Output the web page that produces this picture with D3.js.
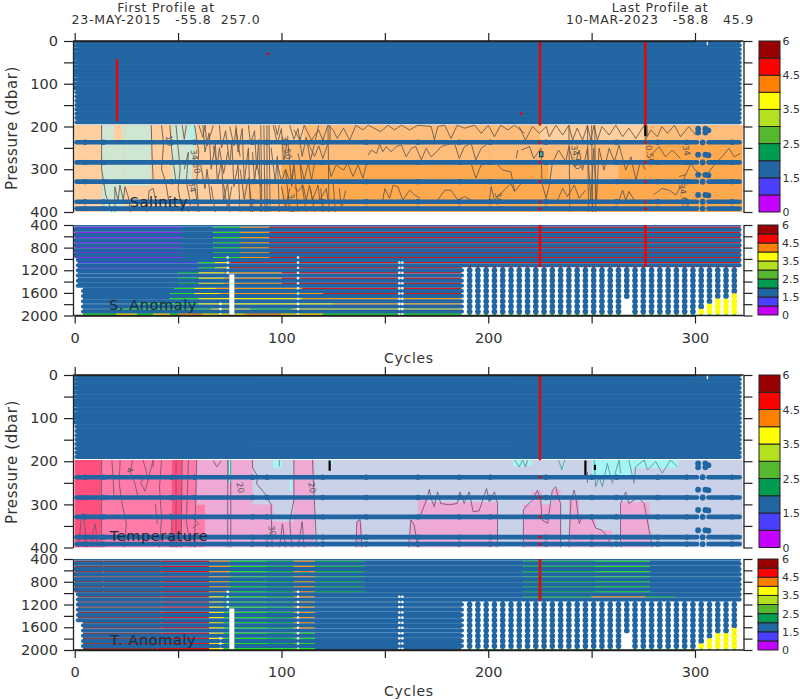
<!DOCTYPE html>
<html><head><meta charset="utf-8">
<style>html,body{margin:0;padding:0;background:#fff}svg{display:block}text{font-family:"DejaVu Sans",sans-serif;fill:#333}</style>
<script src="https://cdn.jsdelivr.net/npm/d3@7/dist/d3.min.js"></script>
</head><body><svg id="c" width="800" height="700"></svg>
<script>
// ---- colour classes (anomaly in standard deviations)
const classBreaks=[1,1.5,2,2.5,3,3.5,4,4.5,5];
const classColors=['#c400ff','#4a3fff','#2166a3','#009c4f','#55b82e','#b3e01f','#ffff00','#ff8000','#ff0000','#990000'];
const sliverColors=['#8a2be8','#4a3fe0','#2166a3','#10b040','#22dd22','#b3e01f','#ffee00','#ff9a10','#d81818','#8a3a40'];
const barEdges=[0,1,1.5,2,2.5,3,3.5,4,4.5,5,6];
const barLabels=[0,1.5,2.5,3.5,4.5,6];
const xMajor=[0,50,100,150,200,250,300];
const xLabelled=[0,100,200,300];
const shallowTicks=[0,50,100,150,200,250,300,350,400];
const shallowLabelled=[0,100,200,300,400];
const deepTicks=[400,600,800,1000,1200,1400,1600,1800,2000];
const deepLabelled=[400,800,1200,1600,2000];
// ---- sampled levels
const denseLevels=[0,10,20,30,40,50,60,70,80,90,100,110,120,130,140,150,160,170,180,190];
const sparseLevels=[237,284,329,376,392];
const bumpCycles=[5,14,47,58,86,93,120,141,166,186,201,228,250,262,282,296,318];
const loneDots=[[301.5,205],[301.5,214],[305,205],[305,214],[306.5,209],[301.5,266],[305,266],[306.5,267],[301.5,313],[305,313],[306.5,314],[301.5,360],[305,360],[306.5,361],[303.7,237],[303.7,284],[303.7,329],[303.7,376],[303.7,392]];
const sliverLevels=[440,530,625,715,800,890,975,1065,1155,1245,1340,1430,1520,1610,1705,1795,1885,1980];
const blueLevels=[400,485,578,670,758,845,932,1020,1110,1200,1292,1385,1475,1565,1657,1750,1840,1930];
const columnCycles=[191,195,199,203,207,211,215,219,223,227,231,235,239,243,247,251,255,259,263,267,271,275,279,283,287,291,295,299,303,307,311,315,319];
const shortColumn=[[267,1657]];
const yellowCols=[[303,1930],[307,1840],[311,1750],[315,1750],[319,1657]];
const missing=[[74,900,1250],[108,950,2000],[70.5,1750,2000],[157,1000,2000],[158.5,1000,2000]];
const wideGap=[76,1270,2000];
// ---- salinity section
const salBreaks=[34.40,34.50,34.55,34.60];
const salFill=['#a5f4f4','#cfe6d3','#ffcf9f','#ffbd7c','#ffa94f'];
const salCells=[[0,323,197,400,34.63],[0,13,197,400,34.52],[13,24,197,400,34.45],[19,23,197,235,34.52],[24,37,197,340,34.45],[24,37,340,400,34.52],[37,47,197,400,34.52],[47,57,197,330,34.45],[47,57,330,400,34.52],[57,81,197,400,34.52],[81,100,197,330,34.52],[81,100,330,400,34.57],[100,111,197,240,34.52],[100,111,240,280,34.57],[111,225,197,240,34.57],[111,200,240,285,34.57],[56,58,197,240,34.38],[56.5,57.5,240,285,34.38],[200,276,240,285,34.57],[229,263,285,330,34.57],[225,276,197,240,34.52],[276,323,197,240,34.57]];
const salContours=[
[13,197,13,300,14,330,15,360,18,400],[19.4,400,19.4,341,21,372,21.9,337,23.5,372,24.3,341,25.9,364,27,400],[37,197,37.5,280,38,330],[35,400,36,350,38,345,40,395],[42,197,43,240,42,300,44,330,46,390],[46,197,47,260,49,330],[49,197,50,250,51,300,50,345,52,400],[52,197,53,230,54,197],[53,300,55,260,54,330,56,380,55,400],[58,197,60,260,59,330,60,400],[60,197,62,225,63,197,64,245,66,215,67,197],
[62,197,63,260,65,215,66,300,68,240,69,330,71,280,72,375,74,330,75,400],[70,197,71,250,73,210,75,290,76,235,77,340,79,290,80,400],[78,197,79,260,81,205,82,330,84,250,85,400],[84,197,85,240,87,210,88,300,89,230,90,400],[90,197,90.5,400],[91.5,197,92,400],[93,197,93,400],[94,197,94.5,400],[95,250,97,330,98,270,99,400],[96,197,98,240,100,205,101,285,103,230,105,340,106,280,108,400],[100,340,102,390,104,345],[104,197,106,230,108,205,110,270,112,225,114,280,116,240,118,197],[66,340,68,400],[72,335,74,395,76,340],
[58,340,60,400],[61,290,63,345,64,300,66,380],[67,245,69,290,70,250,72,310,74,260],[75,200,77,245,78,205,80,270],[80,300,82,370,84,320,86,400],[86,260,87,330,88,280,90,340],[97,197,98,220,99,197],[102,300,104,330,106,300],[98,285,100,330,102,300,104,400],[109,285,110,340,112,400],[114,345,116,400],[119,345,120,400],[125,330,126,400],[128,345,129,395,131,350],
[106,208,109,232,111,197,114.5,232,118,208,120,232,122.5,197,125,208,127,228,130,204,133,232,136,197,139.4,208,142,197,148,212,151.5,197,154.7,208,158,197,162,208,166,197,172.4,200,174,232,175.6,200,179,197,182,228,185,197,188.5,204,193.4,197,196.6,216,200,197,203,224,206,197,209.5,208,212.7,197,217.5,216],
[142,267,143.4,255,146,263,147.5,241,149,259,150.7,247,153,259,155.5,247,158,243,160.3,271,162.8,251,165,247,167.6,278,170,251,172.4,271,175,259,177.3,247,179.7,243,183.7,239,186,275,188.5,247,191.7,239,194,278,196.6,251,200,239],
[108,263,111,325,113,286,114.5,325,116,287],[113,240,116,270,118,245,120,275,122.5,239],[122.5,197,123,400],[123.5,197,123.5,240],[122.5,282,124,317,126.5,290,130,302,132,286,134.6,317,137,290,139.4,321,141,290],
[106.4,341,108,352,110.4,337,112,372,113.6,337,115,372,117.7,337,118.5,372,121.7,345,122.5,372],[149,372,150,345,152.3,368,154,337,156.3,341,158.7,372,162,349,164.4,360,167,368],[175.6,372,179,349,182,349,185.3,372,188.5,364,191.7,372],[200.6,372,201.4,341,203,372,211,333,212.7,352],
[191.7,286,194,321,196.6,290,200,286],[204.6,290,207,302,211,306,212.7,352,216,333],[214.3,255,213.5,275],
[215,200,218,232,221.4,200,224.7,216,228,200,229.5,224,232.7,197,236,220,239,197,240.8,232,243,204,245.6,232,248,197,249.6,232,251.2,197,252.8,232,255,200,258.5,220,261.7,197,265,224,268,204,271.4,228,275.4,197,276,232,278.6,208,281.8,224,284,200,286.7,216,290,197,293,224,297,200,300.3,220],
[216,255,220,247,222,275,225.5,251,226,333,228,368,229.5,337,231,286,234,255,237.5,282,239,247,241.6,294,244,255,245.6,302,248,251,249.6,372,251,251,252.4,372,253.6,251,256,302,258.5,251,261,282,263.3,243,266.5,302,269,271,271.4,325,273.8,278,276,302],
[279.4,263,282.6,247,285.8,271,289,255,293,275],[292.3,317,295.5,313,298,286,300,302,305,317,310,286,313,271,316.4,251,319,271,322,263],[280,360,284,345,287.5,349,290.7,360,294,333,295.5,310],[233.5,372,236,345,238.3,364,241.6,337,244,368,247,349],[263.3,372,265,349,266.5,372,268,352,270.6,372],[239,197,239.5,400],[248,197,248.5,400],[250,197,250.5,400],[251.5,197,252,400],[276,197,276.5,225],[276.8,197,277,222]];
const salLabels=[['10',44,222],['34.50',56,255],['34.50',100,222],['34.60',103,358],['34.6',203,355],['34.50',240,245],['34',294,245],['34.60',292,335],['0.50',276,245],['34',55,330]];
// ---- temperature section
const tmpBreaks=[1.9,2.0,2.1,2.3];
const tmpFill=['#a5f5f5','#c9d2e8','#eeaad5','#ff7ca8','#ff4f7c'];
const tmpCells=[[0,323,197,400,1.95],[0,13,197,400,2.4],[13,47,197,400,2.2],[47,52,197,400,2.4],[52,59,197,400,2.2],[59,63,300,400,2.2],[59,75,197,300,2.05],[63,75,300,400,2.05],[75,86,197,400,2.05],[86,96,300,400,2.05],[96,106,340,400,2.05],[106,116,197,400,2.05],[136,139,340,400,2.05],[162,166,335,400,2.05],[166,171,285,400,2.05],[171,204.5,295,400,2.05],[217,235,300,400,2.05],[221,226,270,300,2.05],[231,235,265,300,2.05],[239,244,290,400,2.05],[244,252,330,400,2.05],[252,260,360,400,2.05],[264,278,295,400,2.05],[278,279,360,400,2.05],[212,218,197,212,1.85],[219,221,197,210,1.85],[236,237,197,220,1.85],[250,270,197,240,1.85],[270,292,197,215,1.85],[96,100,197,215,1.85],[123,125,197,205,1.85],[74,76,197,250,1.85],[104,105,240,270,1.85]];
const tmpContours=[[13,197,13,400],[2,400,3,340,4,320,5,355,6,400],[8,400,9,360,10,345,11,400],[18,197,18.5,235,19,280],[22,197,21.5,250,23,300,25,345,24,400],[28,197,27,225,29,250,31,290],[33,197,35,230,32,250,34,270,38,197],[38,197,38,215],[39,300,40,345],[42,197,41,260,42,330,41,400],[46,320,47,345,46,400],[49,197,49,400],[52,197,51.5,400],[55,197,54,340,56,400],[59,197,58,400],[57,330,60,345,57,355],
[67,198,68.7,213,71,198],[74,197,74,400],[75.5,197,75.5,400],[86,197,86,215,88.5,235,88,252,92,275,95,300,95.5,400],[106,197,106,290,104,340,105,400],[115,197,116,300,117,400],[99,400,100.5,345,102,400],[108,400,110,340,111,400],[136,400,136.5,340,138,335,139,400],
[161.5,400,162.6,336,164.2,348,165.9,400],[166.7,332,170.7,282,171.5,265,172.6,290,173.9,305,175.5,271,177,298,181,301,185,298,186.3,271,188.4,298,190.8,271,192.7,317,195.6,315,199.2,263,200.5,294,203,271,204.5,298,204.5,400],
[217,400,217,313,219,301,221.4,290,223.8,267,225.4,290,226,336,228.7,344,231,267,232.7,259,233.5,278,235,298,235,400],[239,400,240,290,241.5,267,242.3,282,244,344,245.6,328,249.6,328,252,355,255,360,257.6,375,260,400],[264,400,264,298,266.5,271,268,298,270.5,290,272,282,275.4,298,277.8,360,279.4,400],[248,250,248,225]];
const tmpTealContours=[[212.6,197,215,213,216.6,197,218,213,219,197],[234,197,235.6,220,237,197],[251.2,197,252,259,253.6,236,255.2,259,257.6,205,260,251,263.3,197,264,228],[268,197,270.5,251,271.3,213,275.4,197,277,220,281,201,284.2,228,288.2,197,291.5,213],[74.3,197,74.3,250],[99,197,99,212]];
const tmpLabels=[['20',78.3,250],['20',113,250],['30',93.6,350],['4',25,215]];
const blackMarks=[[123.3,198,222],[247,198,235],[251.6,208,220]];
// ---- red columns and single points
const salRedColumns=[[225,0,197],[276,0,197]];
const salRedExtra=[[20.5,45,185]];
const redPoints=[[93.5,30],[216,170]];
const tmpRedColumns=[[225,0,197]];
// ---- anomaly slivers: [first row index, last row index, runs of [from, to, value]]
const sRuns=[
[0,6,[[0,52,0.5],[52,67,1.7],[67,80,2.7],[80,94,4.2],[94,322,4.7]]],
[7,8,[[0,60,1.2],[60,68,2.7],[68,75,3.7],[75,322,4.7]]],
[9,11,[[0,50,1.7],[50,60,2.2],[60,72,3.7],[72,100,4.3],[100,187,4.7]]],
[12,12,[[0,48,1.7],[48,58,2.7],[58,68,3.7],[68,110,4.3],[110,187,4.7]]],
[13,13,[[0,46,1.7],[46,58,2.7],[58,70,3.7],[70,120,4.3],[120,187,4.6]]],
[14,14,[[0,46,1.7],[46,60,2.7],[60,110,3.7],[110,187,4.2]]],
[15,15,[[0,30,1.7],[30,60,2.7],[60,125,3.7],[125,187,4.2]]],
[16,16,[[0,20,1.7],[20,66,2.7],[66,85,3.7],[85,105,2.7],[105,125,3.7],[125,160,3.7],[160,187,3.7]]],
[17,17,[[4,20,2.7],[20,30,3.7],[30,38,2.7],[38,46,3.7],[46,50,2.7],[50,62,4.2],[62,82,3.7],[82,100,4.2],[100,120,3.7],[120,187,2.7]]]];
const tRuns=[
[0,6,[[0,14,5.5],[14,42,5.5],[42,65,4.7],[65,75,4.2],[75,93,2.7],[93,106,2.2],[106,116,4.2],[116,140,2.2],[140,217,1.7],[217,252,2.2],[252,278,2.7],[278,322,1.7]]],
[7,8,[[0,42,5.5],[42,65,4.7],[65,72,3.7],[72,93,2.7],[93,106,2.2],[106,116,4.2],[116,217,1.7],[217,250,2.2],[250,276,4.2],[276,290,2.2],[290,322,1.7]]],
[9,13,[[0,42,5.5],[42,65,4.7],[65,72,3.7],[72,93,2.7],[93,106,2.2],[106,116,4.2],[116,187,1.7]]],
[14,16,[[0,42,5.5],[42,65,4.7],[65,72,3.7],[72,93,2.7],[93,106,2.2],[106,116,2.7],[116,187,1.7]]],
[17,17,[[4,40,5.5],[40,65,4.7],[65,72,3.7],[72,100,2.7],[100,116,2.7],[116,187,1.7]]]];
const sColumnValues=[4.7,4.7,4.7,4.6,4.3,4.3,3.7,3.7,3.7,2.7];
const tColumnValues=[1.7,1.7,1.7,1.7,1.7,1.7,1.7,1.7,1.7,2.7];
// ---- page text
const titles=[["First Profile at",166,11.5],["23-MAY-2015   -55.8  257.0",166,24],["Last Profile at",660,11.5],["10-MAR-2023   -58.8   45.9",660,24]];

// ---- scales
const svg=d3.select('#c');
const x=d3.scaleLinear().domain([0,300]).range([74.7,695]);
const cls=d3.scaleThreshold().domain(classBreaks).range(classColors);
const sliver=d3.scaleThreshold().domain(classBreaks).range(sliverColors);
const salColor=d3.scaleThreshold().domain(salBreaks).range(salFill);
const tmpColor=d3.scaleThreshold().domain(tmpBreaks).range(tmpFill);
const XR=743.5,XL=73;
const blue=classColors[2];
function pairs(a){const o=[];for(let i=0;i<a.length;i+=2)o.push([a[i],a[i+1]]);return o;}

function clip(id,y0,y1){svg.append('clipPath').attr('id',id).append('rect').attr('x',XL).attr('y',y0).attr('width',XR-XL).attr('height',y1-y0);}

function axes(y,ticks,labelled,top){
  const ax=svg.append('g').attr('transform',`translate(${XL},0)`).call(d3.axisLeft(y).tickValues(ticks).tickSize(9).tickSizeOuter(0).tickPadding(6).tickFormat(d=>labelled.includes(d)?d:''));
  const ar=svg.append('g').attr('transform',`translate(${XR},0)`).call(d3.axisRight(y).tickValues(ticks).tickSize(9).tickSizeOuter(0).tickFormat(''));
  const [y0,y1]=y.range();
  let ah;
  if(top) ah=svg.append('g').attr('transform',`translate(0,${y0})`).call(d3.axisTop(x).tickValues(xMajor).tickSize(8).tickSizeOuter(0).tickFormat(''));
  else ah=svg.append('g').attr('transform',`translate(0,${y1})`).call(d3.axisBottom(x).tickValues(xMajor).tickSize(8).tickSizeOuter(0).tickPadding(9).tickFormat(d=>xLabelled.includes(d)?d:''));
  [ax,ar,ah].forEach(g=>{g.selectAll('path').attr('stroke','#222').attr('stroke-width',1.3);g.selectAll('line').attr('stroke','#222').attr('stroke-width',1.2);g.selectAll('text').style('font-size','14.5px').style('font-family','"DejaVu Sans"').attr('fill','#333');});
  svg.append('line').attr('x1',XL).attr('x2',XR).attr('y1',top?y0:y1).attr('y2',top?y0:y1).attr('stroke','#222').attr('stroke-width',1.3);
}

function colorbar(y0,y1,bx0,bx1,pad){
  const cb=d3.scaleLinear().domain([0,10]).range([y1,y0]);
  svg.append('g').selectAll('rect').data(classColors).join('rect')
   .attr('x',bx0).attr('width',bx1-bx0).attr('y',(d,i)=>cb(i+1)).attr('height',(d,i)=>cb(i)-cb(i+1))
   .attr('fill',d=>d).attr('stroke','#222').attr('stroke-width',1);
  svg.append('g').selectAll('text').data(barLabels).join('text')
   .attr('x',bx1+pad).attr('y',d=>cb(barEdges.indexOf(d))+4).style('font-size','11px').text(d=>d);
}

function section(id,y,cells,colorOf,contours,labels,redCols,extra){
  clip(id,y(0),y(400));
  const g=svg.append('g').attr('clip-path',`url(#${id})`);
  g.selectAll('rect.cell').data(cells).join('rect').attr('class','cell')
   .attr('x',d=>x(d[0])).attr('width',d=>x(d[1])-x(d[0])).attr('y',d=>y(d[2])).attr('height',d=>y(d[3])-y(d[2]))
   .attr('fill',d=>colorOf(d[4]));
  contours.forEach(([lines,col])=>{
    g.selectAll(null).data(lines).join('path').attr('fill','none').attr('stroke',col).attr('stroke-width',.9)
     .attr('d',d=>d3.line().x(p=>x(p[0])).y(p=>y(p[1]))(pairs(d)));
  });
  g.selectAll('text.cl').data(labels).join('text').attr('class','cl')
   .attr('transform',d=>`translate(${x(d[1])},${y(d[2])}) rotate(80)`).style('font-size','8.5px').style('fill','#555').text(d=>d[0]);
  g.selectAll('line.k').data(extra.black||[]).join('line').attr('class','k')
   .attr('x1',d=>x(d[0])).attr('x2',d=>x(d[0])).attr('y1',d=>y(d[1])).attr('y2',d=>y(d[2])).attr('stroke','#000').attr('stroke-width',2.2);
  // densely sampled upper 200 dbar: faint lighter seams between the merged rows
  g.append('rect').attr('x',x(1)).attr('width',x(321.6)-x(1)).attr('y',y(0)).attr('height',y(190)-y(0)).attr('fill','#3a79ae');
  const rows=g.append('g').attr('stroke',blue).attr('stroke-width',4.2).attr('stroke-linecap','round');
  rows.selectAll('line').data(denseLevels).join('line')
   .attr('x1',d=>x(d>=115?0.9:0)).attr('x2',x(321.6)).attr('y1',d=>y(d)).attr('y2',d=>y(d));
  const rows2=g.append('g').attr('stroke',blue).attr('stroke-width',4.6).attr('stroke-linecap','round');
  rows2.selectAll('line.a').data(sparseLevels).join('line').attr('class','a')
   .attr('x1',x(0.9)).attr('x2',x(301)).attr('y1',d=>y(d)).attr('y2',d=>y(d));
  rows2.selectAll('line.b').data(sparseLevels).join('line').attr('class','b')
   .attr('x1',x(306.5)).attr('x2',x(321.6)).attr('y1',d=>y(d)).attr('y2',d=>y(d));
  const bumps=d3.cross(bumpCycles,sparseLevels);
  g.selectAll('circle.bump').data(bumps).join('circle').attr('class','bump').attr('cx',d=>x(d[0])).attr('cy',d=>y(d[1])).attr('r',2.7).attr('fill',blue);
  g.selectAll('circle.lone').data(loneDots).join('circle').attr('class','lone').attr('cx',d=>x(d[0])).attr('cy',d=>y(d[1])).attr('r',2.9).attr('fill',blue);
  g.append('line').attr('x1',x(306)).attr('x2',x(306)).attr('y1',y(0)).attr('y2',y(10)).attr('stroke','#fff').attr('stroke-width',1.2);
  // red outliers
  const reds=[];
  const oddLevels=[5,15,25,35,45,55,65,75,85,95,105,115,125,135,145,155,165,175,185,195];
  redCols.forEach(([c,p0,p1])=>{
    denseLevels.concat(oddLevels).forEach(p=>{if(p>=p0&&p<=p1)reds.push([c,p]);});
    sparseLevels.forEach(p=>reds.push([c,p]));
  });
  (extra.red||[]).forEach(([c,p0,p1])=>{denseLevels.concat(oddLevels).forEach(p=>{if(p>=p0&&p<=p1)reds.push([c,p]);});});
  (extra.points||[]).forEach(d=>reds.push(d));
  g.selectAll('circle.red').data(reds).join('circle').attr('class','red').attr('cx',d=>x(d[0])).attr('cy',d=>y(d[1])).attr('r',1.35).attr('fill','#f00000');
  if(extra.box){const b=extra.box;g.append('rect').attr('x',x(b[0])-1.5).attr('y',y(b[1])-2.5).attr('width',3.5).attr('height',5).attr('fill','#35b5d8').attr('stroke','#111').attr('stroke-width',.8);}
  axes(y,shallowTicks,shallowLabelled,true);
}

function deep(id,y,runsList,columnValues,redCols){
  clip(id,y(400),y(2000)+1);
  const g=svg.append('g').attr('clip-path',`url(#${id})`);
  const startOf=p=>p>=1510?4:p>=1000?1.5:0;
  const blueRows=blueLevels.map(p=>{const s=startOf(p);return p<=1110?[[s,321.6,p]]:[[s,187.3,p]];}).flat();
  const sl=[];
  runsList.forEach(([a,b,runs])=>{for(let i=a;i<=b;i++){const p=sliverLevels[i];runs.forEach(r=>{const s=Math.max(r[0],startOf(p));let e=r[1];if(p>1110)e=Math.min(e,187.3);if(e>s)sl.push([s,e,p,r[2],i]);});}});
  g.selectAll('line.sl').data(sl).join('line').attr('class','sl').attr('x1',d=>x(d[0])).attr('x2',d=>x(d[1])).attr('y1',d=>y(d[2])).attr('y2',d=>y(d[2])).attr('stroke',d=>sliver(d[3])).attr('stroke-width',d=>d[4]==17?3:1.5);
  // row backing so the slivers are the only gaps
  g.selectAll('line.bl').data(blueRows).join('line').attr('class','bl').attr('x1',d=>x(d[0])).attr('x2',d=>x(d[1])).attr('y1',d=>y(d[2])).attr('y2',d=>y(d[2])).attr('stroke',blue).attr('stroke-width',d=>d[2]==400?3.2:4).attr('stroke-linecap','round');
  // sparse deep profiles
  const cdots=[],cs=[];
  columnCycles.forEach(c=>{
    const short=shortColumn.find(q=>q[0]==c), yel=yellowCols.find(q=>q[0]==c);
    blueLevels.forEach(p=>{ if(p<=1110)return; if(short&&p>short[1])return; cdots.push([c,p,(yel&&p>=yel[1])?3.7:1.7]); });
    sliverLevels.forEach((p,i)=>{ if(p<=1110)return; if(short&&p>short[1])return; cs.push([c,p,columnValues[i-8],i]); });
  });
  g.selectAll('circle.cs').data(cs).join('circle').attr('class','cs').attr('cx',d=>x(d[0])).attr('cy',d=>y(d[1])).attr('r',1.5).attr('fill',d=>sliver(d[2]));
  g.selectAll('circle.cd').data(cdots).join('circle').attr('class','cd').attr('cx',d=>x(d[0])).attr('cy',d=>y(d[1])).attr('r',2.85).attr('fill',d=>cls(d[2]));
  // missing cycles
  const w=[];
  missing.forEach(([c,p0,p1])=>sliverLevels.forEach(p=>{if(p>=p0&&p<=p1)w.push([c,p]);}));
  g.selectAll('circle.w').data(w).join('circle').attr('class','w').attr('cx',d=>x(d[0])).attr('cy',d=>y(d[1])).attr('r',1.3).attr('fill','#fff');
  g.append('line').attr('x1',x(wideGap[0])).attr('x2',x(wideGap[0])).attr('y1',y(wideGap[1])).attr('y2',y(wideGap[2])).attr('stroke','#fff').attr('stroke-width',5);
  // red outlier columns
  const reds=[];
  redCols.forEach(c=>{blueLevels.concat(sliverLevels).forEach(p=>{if(p<=1150)reds.push([c,p]);});});
  g.selectAll('circle.red').data(reds).join('circle').attr('class','red').attr('cx',d=>x(d[0])).attr('cy',d=>y(d[1])).attr('r',1.5).attr('fill','#f00000');
  axes(y,deepTicks,deepLabelled,false);
}

const y1=d3.scaleLinear().domain([0,400]).range([41,212]);
const y2=d3.scaleLinear().domain([400,2000]).range([225,315.5]);
const y3=d3.scaleLinear().domain([0,400]).range([375,547.5]);
const y4=d3.scaleLinear().domain([400,2000]).range([559,650]);

section('p1',y1,salCells,salColor,[[salContours,'#6b5a48']],salLabels,salRedColumns,{red:salRedExtra,points:redPoints,black:[[276,197,222]],box:[225.5,265]});
deep('p2',y2,sRuns,sColumnValues,[225,276]);
section('p3',y3,tmpCells,tmpColor,[[tmpContours,'#7a5676'],[tmpTealContours,'#5a9596']],tmpLabels,tmpRedColumns,{black:blackMarks});
deep('p4',y4,tRuns,tColumnValues,[225]);

colorbar(41,212,759,780,2.5);colorbar(225,315,758,778,4);colorbar(375,547.5,759,780,2.5);colorbar(559,650,758,778,4);

const label=(t,xx,yy,o={})=>svg.append('text').attr('x',xx).attr('y',yy).attr('text-anchor',o.a||'middle').style('font-size',(o.s||14)+'px').style('letter-spacing',(o.l||0)+'px').style('fill',o.c||'#333').attr('xml:space','preserve').attr('transform',o.r?`rotate(${o.r} ${xx} ${yy})`:null).text(t);
titles.forEach(t=>label(t[0],t[1],t[2],{s:12.5,l:.75}));
label('Pressure (dbar)',17,128,{r:-90,s:15,l:.6});
label('Pressure (dbar)',17,462,{r:-90,s:15,l:.6});
label('Cycles',409,363,{s:14,l:.7});
label('Cycles',409,696,{s:14,l:.7});
label('Salinity',159,207,{s:14.5,c:'#1a2a3a',l:.6});
label('S. Anomaly',153,310,{s:14.5,c:'#1a2a3a',l:.6});
label('Temperature',159,541,{s:14.5,c:'#1a2a3a',l:.6});
label('T. Anomaly',153,645,{s:14.5,c:'#1a2a3a',l:.6});
</script></body></html>
